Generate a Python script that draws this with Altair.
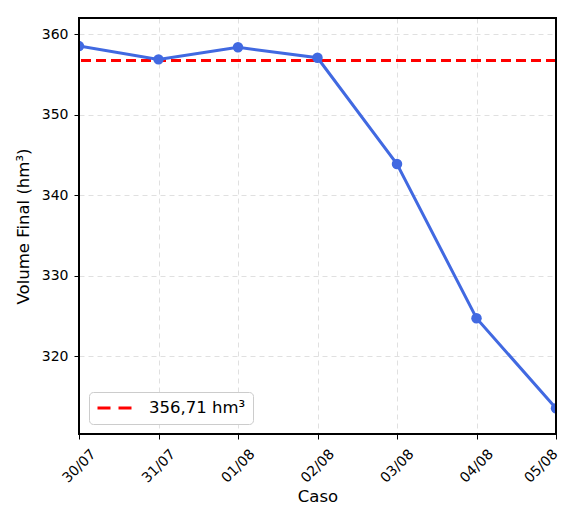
import altair as alt
import pandas as pd

dates = ["30/07", "31/07", "01/08", "02/08", "03/08", "04/08", "05/08"]
volumes = [358.5, 356.85, 358.35, 357.05, 343.85, 324.7, 313.5]
ref_value = 356.71
ref_label = "356,71 hm³"

df = pd.DataFrame({"Caso": dates, "Volume": volumes})
ref_df = pd.DataFrame({"y": [ref_value], "label": [ref_label]})

FONT = "DejaVu Sans"
Y_DOMAIN = [310.31, 361.99]
W, H = 477, 416

x_enc = alt.X(
    "Caso:O",
    sort=dates,
    scale=alt.Scale(type="point", padding=0),
    axis=alt.Axis(
        title="Caso",
        labelAngle=-45,
        labelAlign="center",
        labelBaseline="middle",
        labelPadding=27,
        labelOffset={"expr": "datum.value == '05/08' ? -15 : 0"},
        labelFontSize=14,
        titleFontSize=16.5,
        titleFontWeight="normal",
        titleY=62,
        titleBaseline="middle",
        grid=True,
        gridDash=[5, 4],
        gridColor="#e0e0e0",
        tickColor="black",
        tickSize=5,
        domain=False,
        labelColor="black",
        titleColor="black",
    ),
)

y_enc = alt.Y(
    "Volume:Q",
    scale=alt.Scale(domain=Y_DOMAIN, nice=False, zero=False),
    axis=alt.Axis(
        title="Volume Final (hm³)",
        values=[320, 330, 340, 350, 360],
        labelFontSize=14,
        titleFontSize=16.5,
        titleFontWeight="normal",
        titleX=-56,
        titleY=208,
        titleBaseline="middle",
        labelPadding=6,
        grid=True,
        gridDash=[5, 4],
        gridColor="#e0e0e0",
        tickColor="black",
        tickSize=5,
        domain=False,
        labelColor="black",
        titleColor="black",
    ),
)

rule = alt.Chart(ref_df).mark_rule(strokeWidth=3, strokeDash=[10, 5]).encode(
    y=alt.Y("y:Q", scale=alt.Scale(domain=Y_DOMAIN, nice=False, zero=False)),
    color=alt.Color(
        "label:N",
        scale=alt.Scale(domain=[ref_label], range=["#ff0000"]),
        legend=alt.Legend(
            title=None,
            orient="none",
            legendX=10,
            legendY=374,
            symbolType="stroke",
            symbolDash=[13, 8],
            symbolStrokeWidth=3,
            symbolSize=1156,
            clipHeight=18,
            labelFontSize=16.5,
            labelFont=FONT,
            labelColor="black",
            strokeColor="#cccccc",
            fillColor="white",
            cornerRadius=4,
            padding=7,
            labelOffset=16,
        ),
    ),
)

line = alt.Chart(df).mark_line(color="#4169E1", strokeWidth=3, clip=True).encode(x=x_enc, y=y_enc)
pts = alt.Chart(df).mark_circle(color="#4169E1", size=110, opacity=1, clip=True).encode(x=x_enc, y=y_enc)

frame = alt.Chart(df).mark_rect(filled=False, stroke="black", strokeWidth=1.3).encode(
    x=alt.value(0), x2=alt.value(W), y=alt.value(0), y2=alt.value(H)
)

chart = (
    alt.layer(rule, line, pts, frame)
    .properties(
        width=W,
        height=H,
        autosize=alt.AutoSizeParams(type="none"),
        padding={"left": 71, "top": 10, "right": 7, "bottom": 70},
    )
    .configure(font=FONT)
    .configure_view(stroke=None)
    .configure_axis(labelFont=FONT, titleFont=FONT)
)

chart.save("out.html", embed_options={"renderer": "svg", "actions": False})
